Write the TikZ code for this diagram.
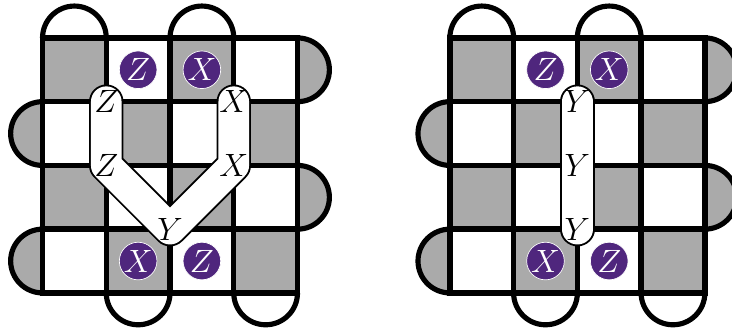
\documentclass[tikz,border=0pt]{standalone}
\usepackage{amsmath}
\usepackage{tikz}
\definecolor{cellgray}{HTML}{AAAAAA}
\definecolor{stabpurple}{HTML}{4F267D}

\begin{document}
\begin{tikzpicture}[
    bline/.style={line width=2.4pt, line cap=rect},
    bump/.style={line width=2.3pt, draw=black},
    cell/.style={fill=cellgray},
    stab/.style={circle, fill=stabpurple, draw=white, line width=0.3pt, minimum size=0.59cm, inner sep=-3pt, text=white, font=\fontsize{15}{18}\selectfont},
    pauli/.style={inner sep=0pt, font=\fontsize{15}{18}\selectfont},
    tubeout/.style={line width=0.54cm, line cap=round, line join=round, black},
    tubein/.style={line width=0.48cm, line cap=round, line join=round, white}
]
\useasboundingbox (-0.667,-0.55) rectangle (10.816,4.595);
%% ============================================================
%% FIRST BOARD: bent Z-Z-Y-X-X string
%% ============================================================
\fill[cell] (0,3) rectangle (1,4);
\fill[cell] (2,3) rectangle (3,4);
\fill[cell] (1,2) rectangle (2,3);
\fill[cell] (3,2) rectangle (4,3);
\fill[cell] (0,1) rectangle (1,2);
\fill[cell] (2,1) rectangle (3,2);
\fill[cell] (1,0) rectangle (2,1);
\fill[cell] (3,0) rectangle (4,1);
\draw[bump, fill=white] (0,4) arc (180:0:0.5);
\draw[bump, fill=white] (2,4) arc (180:0:0.5);
\draw[bump, fill=white] (1,0) arc (180:360:0.5);
\draw[bump, fill=white] (3,0) arc (180:360:0.5);
\draw[bump, fill=cellgray] (4,4) arc (90:-90:0.5);
\draw[bump, fill=cellgray] (4,2) arc (90:-90:0.5);
\draw[bump, fill=cellgray] (0,3) arc (90:270:0.5);
\draw[bump, fill=cellgray] (0,1) arc (90:270:0.5);
\draw[bline] (0,0) grid (4,4);
\node[stab] (Sz1) at (1.5,3.5) {$Z$};
\node[stab] (Sx1) at (2.5,3.5) {$X$};
\node[stab] (Sx2) at (1.5,0.5) {$X$};
\node[stab] (Sz2) at (2.5,0.5) {$Z$};
\coordinate (a1) at (1,3);
\coordinate (a2) at (1,2);
\coordinate (a3) at (2,1);
\coordinate (a4) at (3,2);
\coordinate (a5) at (3,3);
\draw[tubeout] (a1) -- (a2) -- (a3) -- (a4) -- (a5);
\draw[tubein] (a1) -- (a2) -- (a3) -- (a4) -- (a5);
\node[pauli] (Pa1) at (a1) {$Z$};
\node[pauli] (Pa2) at (a2) {$Z$};
\node[pauli] (Pa3) at (a3) {$Y$};
\node[pauli] (Pa4) at (a4) {$X$};
\node[pauli] (Pa5) at (a5) {$X$};
%% ============================================================
%% SECOND BOARD: straight Y-Y-Y string, shifted right
%% ============================================================
\begin{scope}[xshift=6.39cm]
\fill[cell] (0,3) rectangle (1,4);
\fill[cell] (2,3) rectangle (3,4);
\fill[cell] (1,2) rectangle (2,3);
\fill[cell] (3,2) rectangle (4,3);
\fill[cell] (0,1) rectangle (1,2);
\fill[cell] (2,1) rectangle (3,2);
\fill[cell] (1,0) rectangle (2,1);
\fill[cell] (3,0) rectangle (4,1);
\draw[bump, fill=white] (0,4) arc (180:0:0.5);
\draw[bump, fill=white] (2,4) arc (180:0:0.5);
\draw[bump, fill=white] (1,0) arc (180:360:0.5);
\draw[bump, fill=white] (3,0) arc (180:360:0.5);
\draw[bump, fill=cellgray] (4,4) arc (90:-90:0.5);
\draw[bump, fill=cellgray] (4,2) arc (90:-90:0.5);
\draw[bump, fill=cellgray] (0,3) arc (90:270:0.5);
\draw[bump, fill=cellgray] (0,1) arc (90:270:0.5);
\draw[bline] (0,0) grid (4,4);
\node[stab] (Tz1) at (1.5,3.5) {$Z$};
\node[stab] (Tx1) at (2.5,3.5) {$X$};
\node[stab] (Tx2) at (1.5,0.5) {$X$};
\node[stab] (Tz2) at (2.5,0.5) {$Z$};
\coordinate (b1) at (2,3);
\coordinate (b2) at (2,2);
\coordinate (b3) at (2,1);
\draw[tubeout] (b1) -- (b2) -- (b3);
\draw[tubein] (b1) -- (b2) -- (b3);
\node[pauli] (Pb1) at (b1) {$Y$};
\node[pauli] (Pb2) at (b2) {$Y$};
\node[pauli] (Pb3) at (b3) {$Y$};
\end{scope}
\end{tikzpicture}
\end{document}
